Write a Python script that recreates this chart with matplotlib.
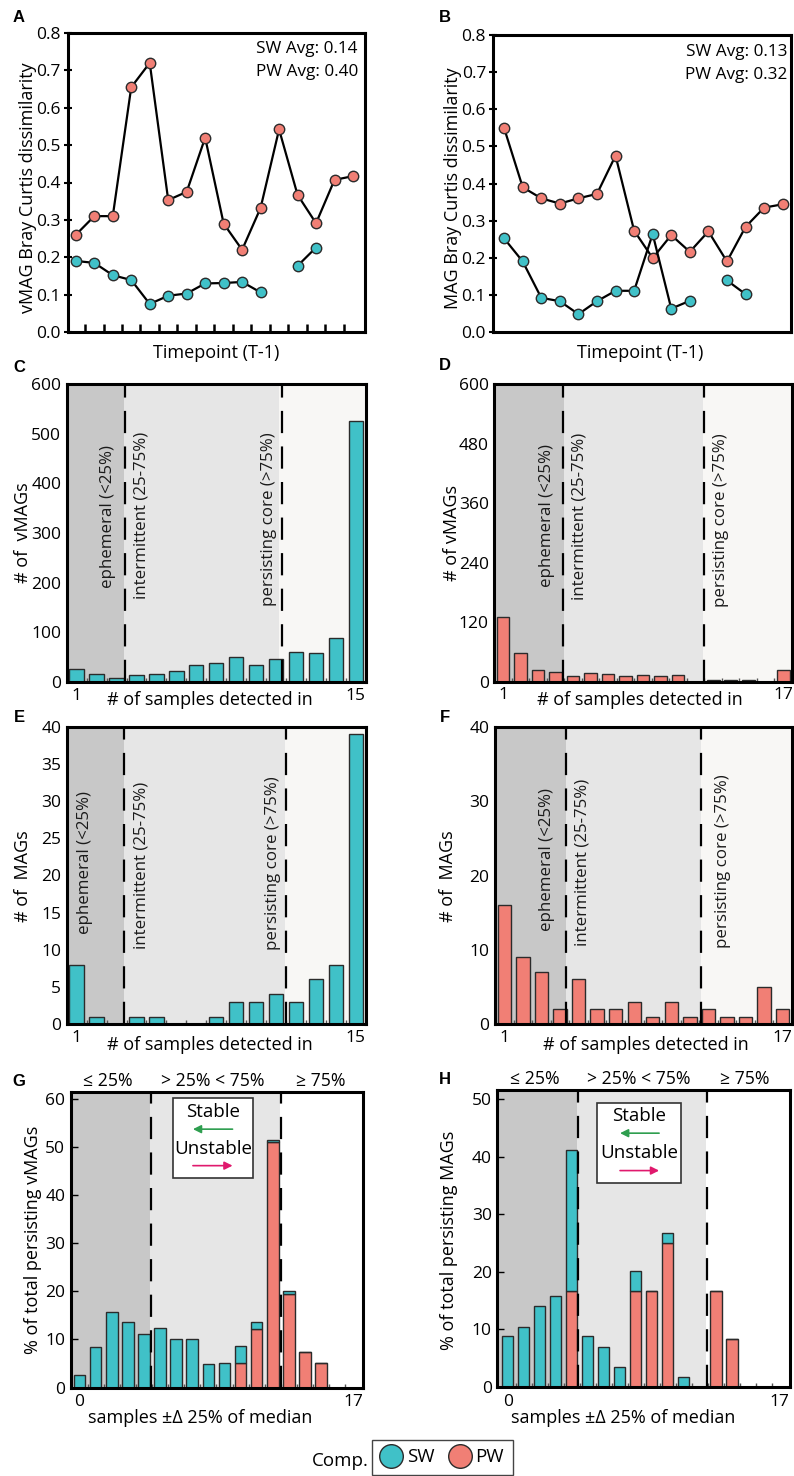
import numpy as np
import matplotlib.pyplot as plt
from matplotlib.lines import Line2D
from matplotlib.patches import Rectangle

plt.rcParams['font.family'] = ['Open Sans', 'DejaVu Sans']

teal = '#40c1c8'
salmon = '#f17f75'
edge = '#2b2b2b'
dark_gray = '#c8c8c8'
light_gray = '#e6e6e6'
pale = '#f8f7f5'

# --- A / B: Bray Curtis dissimilarity between consecutive timepoints ---
timepoints = np.arange(16)
vmag_pw = [0.26, 0.31, 0.31, 0.655, 0.72, 0.353, 0.375, 0.52, 0.29, 0.22,
           0.332, 0.542, 0.367, 0.291, 0.407, 0.417]
vmag_sw = [0.19, 0.185, 0.152, 0.139, 0.075, 0.097, 0.103, 0.13, 0.131, 0.134,
           0.106, np.nan, 0.177, 0.226, np.nan, np.nan]
mag_pw = [0.549, 0.39, 0.36, 0.346, 0.36, 0.372, 0.475, 0.273, 0.199, 0.261,
          0.216, 0.271, 0.19, 0.283, 0.335, 0.344]
mag_sw = [0.252, 0.19, 0.092, 0.083, 0.048, 0.083, 0.111, 0.111, 0.264, 0.063,
          0.084, np.nan, 0.139, 0.102, np.nan, np.nan]

# --- C-F: number of samples each genome was detected in ---
vmag_sw_det = [27, 17, 9, 14, 17, 23, 34, 38, 51, 34, 47, 60, 58, 88, 525]
vmag_pw_det = [131, 57, 23, 19, 11, 17, 15, 11, 13, 11, 13, 0, 4, 3, 4, 0, 23]
mag_sw_det = [8, 1, 0, 1, 1, 0, 0, 1, 3, 3, 4, 3, 6, 8, 39]
mag_pw_det = [16, 9, 7, 2, 6, 2, 2, 3, 1, 3, 1, 2, 1, 1, 5, 2]

# --- G/H: % of persisting genomes by samples within +-25% of median ---
stab_bins = np.arange(18)
stab_vmag_sw = [2.5, 8.5, 15.7, 13.6, 11.2, 12.3, 10.1, 10.1, 4.9, 5.1, 3.7,
                1.5, 0.4, 0.5, 0, 0, 0, 0]
stab_vmag_pw = [0, 0, 0, 0, 0, 0, 0, 0, 0, 0, 5.0, 12.2, 51.2, 19.5, 7.4, 5.0, 0, 0]
stab_mag_sw = [8.8, 10.5, 14.0, 15.8, 24.5, 8.8, 7.0, 3.5, 3.5, 0, 1.8, 1.8,
               0, 0, 0, 0, 0, 0]
stab_mag_pw = [0, 0, 0, 0, 16.7, 0, 0, 0, 16.7, 16.7, 25.0, 0, 0, 16.7, 8.3, 0, 0, 0]

W, H = 794, 1476
fig = plt.figure(figsize=(W / 100, H / 100), dpi=100)

TICK = 12.5
LAB = 13

boxes = {
    'A': (67.5, 365, 33, 332), 'B': (493, 791, 35, 332),
    'C': (66.7, 365.7, 384, 682), 'D': (494.3, 792, 384.3, 681.7),
    'E': (66.7, 365.7, 726.7, 1024), 'F': (495, 792, 727.3, 1024),
    'G': (70.7, 363.3, 1091.7, 1387.5), 'H': (497.3, 790, 1090, 1387),
}


def add_ax(key):
    l, r, t, b = boxes[key]
    ax = fig.add_axes([l / W, 1 - b / H, (r - l) / W, (b - t) / H])
    for s in ax.spines.values():
        s.set_linewidth(2.2)
    return ax


def frac(key, px, py):
    l, r, t, b = boxes[key]
    return (px - l) / (r - l), (b - py) / (b - t)


def labels(ax, key, xl, xpos, yl, ypos):
    ax.set_xlabel(xl, fontsize=LAB, va='center')
    ax.xaxis.set_label_coords(*frac(key, *xpos))
    ax.set_ylabel(yl, fontsize=LAB, va='center')
    ax.yaxis.set_label_coords(*frac(key, *ypos))


# ---------------- A, B ----------------
def line_panel(key, pw, sw, avg_sw, avg_pw, xlim, ticks, txt_pos):
    ax = add_ax(key)
    ax.plot(timepoints, pw, color='black', lw=1.6, marker='o', ms=7.5,
            mfc=salmon, mec=edge, mew=1, zorder=3)
    ax.plot(timepoints, sw, color='black', lw=1.6, marker='o', ms=7.5,
            mfc=teal, mec=edge, mew=1, zorder=4)
    ax.set_xlim(*xlim)
    ax.set_ylim(0, 0.8)
    ax.set_yticks(np.arange(0, 0.81, 0.1))
    ax.set_yticklabels([f'{v:.1f}' for v in np.arange(0, 0.81, 0.1)])
    ax.tick_params(axis='y', direction='inout', length=6, width=1.5,
                   labelsize=TICK, pad=2)
    if ticks:
        ax.set_xticks(timepoints[:-1] + 0.5)
        ax.tick_params(axis='x', direction='in', length=6, width=1.8,
                       labelbottom=False)
    else:
        ax.set_xticks([])
    rx, y1, y2 = txt_pos
    ax.text(*frac(key, rx, y1), f'SW Avg: {avg_sw}', transform=ax.transAxes,
            ha='right', va='center', fontsize=12.3)
    ax.text(*frac(key, rx, y2), f'PW Avg: {avg_pw}', transform=ax.transAxes,
            ha='right', va='center', fontsize=12.3)
    return ax


axA = line_panel('A', vmag_pw, vmag_sw, '0.14', '0.40', (-0.45, 15.65),
                 True, (358, 49, 72))
labels(axA, 'A', 'Timepoint (T-1)', (216, 353),
       'vMAG Bray Curtis dissimilarity', (28, 188))
axB = line_panel('B', mag_pw, mag_sw, '0.13', '0.32', (-0.6, 15.45),
                 False, (787, 52, 75))
labels(axB, 'B', 'Timepoint (T-1)', (640, 353),
       'MAG Bray Curtis dissimilarity', (453, 188))


# ---------------- C-F ----------------
def det_panel(key, counts, color, ylim, yticks, bounds, texts, lab_last):
    ax = add_ax(key)
    n = len(counts)
    x = np.arange(1, n + 1)
    lo, hi = 0.5, n + 0.5
    d1, e1, d2, e2 = bounds
    ax.axvspan(lo, e1, color=dark_gray, lw=0, zorder=0)
    ax.axvspan(e1, e2, color=light_gray, lw=0, zorder=0)
    ax.axvspan(e2, hi, color=pale, lw=0, zorder=0)
    for d in (d1, d2):
        ax.axvline(d, color='black', lw=1.6, ls=(0, (10, 6)), zorder=3)
    ax.bar(x, counts, width=0.72, color=color, edgecolor=edge, lw=1, zorder=2)
    ax.set_xlim(lo, hi)
    ax.set_ylim(*ylim)
    ax.set_yticks(yticks)
    ax.tick_params(axis='y', length=0, labelsize=TICK, pad=4)
    ax.set_xticks([1, n])
    ax.set_xticklabels(['1', lab_last])
    ax.set_xticks(np.arange(1.5, n, 1), minor=True)
    ax.tick_params(axis='x', which='major', length=0, labelsize=TICK, pad=4)
    ax.tick_params(axis='x', which='minor', direction='in', length=3,
                   width=1, color='#555555')
    names = ['ephemeral (<25%)', 'intermittent (25-75%)', 'persisting core (>75%)']
    for (tx, ty), s in zip(texts, names):
        ax.text(tx, ty, s, rotation=90, ha='center', va='center',
                fontsize=12.2, color='#1a1a1a', zorder=4)
    return ax


axC = det_panel('C', vmag_sw_det, teal, (0, 600), np.arange(0, 601, 100),
                (3.43, 3.39, 11.3, 11.17),
                [(2.57, 333), (4.26, 336), (10.65, 328)], '15')
labels(axC, 'C', '# of samples detected in', (210, 700), '# of  vMAGs', (23, 533))
axD = det_panel('D', vmag_pw_det, salmon, (0, 600), np.arange(0, 601, 120),
                (4.44, 4.49, 12.46, 12.42),
                [(3.49, 335), (5.39, 333), (13.47, 326)], '17')
labels(axD, 'D', '# of samples detected in', (640, 700), '# of vMAGs', (452, 533))
axE = det_panel('E', mag_sw_det, teal, (0, 40), np.arange(0, 41, 5),
                (3.39, 3.39, 11.49, 11.45),
                [(1.42, 21.7), (4.26, 21.4), (10.87, 21.7)], '15')
labels(axE, 'E', '# of samples detected in', (210, 1045), '# of  MAGs', (23, 876))
axF = det_panel('F', mag_pw_det, salmon, (0, 40), np.arange(0, 41, 10),
                (4.35, 4.35, 11.6, 11.6),
                [(3.28, 22.2), (5.24, 21.8), (12.76, 21.9)], '17')
labels(axF, 'F', '# of samples detected in', (646, 1045), '# of  MAGs', (448, 876))


# ---------------- G, H ----------------
def stab_panel(key, sw, pw, xlim, ylim, yticks, bounds, tops, box):
    ax = add_ax(key)
    d1, e1, d2, e2 = bounds
    ax.axvspan(xlim[0], e1, color=dark_gray, lw=0, zorder=0)
    ax.axvspan(e1, e2, color=light_gray, lw=0, zorder=0)
    for d in (d1, d2):
        ax.axvline(d, color='black', lw=1.6, ls=(0, (10, 6)), zorder=3)
    ax.bar(stab_bins, pw, width=0.72, color=salmon, edgecolor=edge, lw=1, zorder=2)
    ax.bar(stab_bins, sw, bottom=pw, width=0.72, color=teal, edgecolor=edge,
           lw=1, zorder=2)
    ax.set_xlim(*xlim)
    ax.set_ylim(*ylim)
    ax.set_yticks(yticks)
    ax.tick_params(axis='y', direction='in', length=5, width=1, labelsize=TICK, pad=4)
    ax.set_xticks([0, 17])
    ax.set_xticks(np.arange(0.5, 17, 1), minor=True)
    ax.tick_params(axis='x', which='major', length=0, labelsize=TICK, pad=5)
    ax.tick_params(axis='x', which='minor', direction='in', length=3,
                   width=1, color='#555555')
    for tx, s in zip(tops, ['≤ 25%', '> 25% < 75%', '≥ 75%']):
        ax.text(tx, 1.036, s, transform=ax.get_xaxis_transform(),
                ha='center', va='center', fontsize=12.7)
    bx0, bx1, by0, by1, ys, yg, yu, yp, ax0, ax1 = box
    ax.add_patch(Rectangle((bx0, by0), bx1 - bx0, by1 - by0, fc='white',
                           ec='#333333', lw=1.2, zorder=5))
    cx = (bx0 + bx1) / 2
    ax.text(cx, ys, 'Stable', ha='center', va='center', fontsize=13.5, zorder=6)
    ax.text(cx, yu, 'Unstable', ha='center', va='center', fontsize=13.5, zorder=6)
    ax.annotate('', xy=(ax0, yg), xytext=(ax1, yg), zorder=6,
                arrowprops=dict(arrowstyle='-|>', color='#2e9e4f', lw=1.2,
                                mutation_scale=12, shrinkA=0, shrinkB=0))
    ax.annotate('', xy=(ax1, yp), xytext=(ax0, yp), zorder=6,
                arrowprops=dict(arrowstyle='-|>', color='#e0196d', lw=1.2,
                                mutation_scale=12, shrinkA=0, shrinkB=0))
    return ax


axG = stab_panel('G', stab_vmag_sw, stab_vmag_pw, (-0.55, 17.62), (0, 61.6),
                 np.arange(0, 61, 10), (4.45, 4.39, 12.53, 12.42),
                 (1.78, 8.3, 14.95),
                 (5.78, 10.77, 43.6, 60.2, 57.3, 53.8, 49.7, 46.2, 7.04, 9.5))
labels(axG, 'G', 'samples ±Δ 25% of median', (200, 1418),
       '% of total persisting vMAGs', (33, 1240))
axH = stab_panel('H', stab_mag_sw, stab_mag_pw, (-0.65, 17.64), (0, 51.6),
                 np.arange(0, 51, 10), (4.37, 4.31, 12.47, 12.4),
                 (1.7, 8.2, 14.8),
                 (5.56, 10.83, 35.5, 49.4, 47.0, 44.1, 40.6, 37.6, 7.02, 9.46))
labels(axH, 'H', 'samples ±Δ 25% of median', (623, 1418),
       '% of total persisting MAGs', (449, 1240))

# panel letters
for key, (px, py) in {'A': (19, 18), 'B': (445, 17), 'C': (19, 367),
                      'D': (445, 366), 'E': (19, 717), 'F': (445, 717),
                      'G': (19, 1081), 'H': (445, 1080)}.items():
    fig.text(px / W, 1 - py / H, key, fontweight='bold', fontsize=12,
             family='Liberation Sans', ha='center', va='center')

# legend
handles = [Line2D([], [], ls='none', marker='o', ms=17, mfc=teal, mec=edge, mew=1),
           Line2D([], [], ls='none', marker='o', ms=17, mfc=salmon, mec=edge, mew=1)]
fig.legend(handles, ['SW', 'PW'], loc='upper left',
           bbox_to_anchor=(372 / W, 1 - 1440 / H), ncol=2, frameon=True,
           fancybox=False, edgecolor='#444444', framealpha=1, borderpad=0.45,
           handletextpad=0.3, columnspacing=0.8, fontsize=13.5,
           borderaxespad=0, handlelength=1.1)
fig.text(340 / W, 1 - 1461 / H, 'Comp.', ha='center', va='center', fontsize=13.5)

fig.savefig('out.png', dpi=100)
